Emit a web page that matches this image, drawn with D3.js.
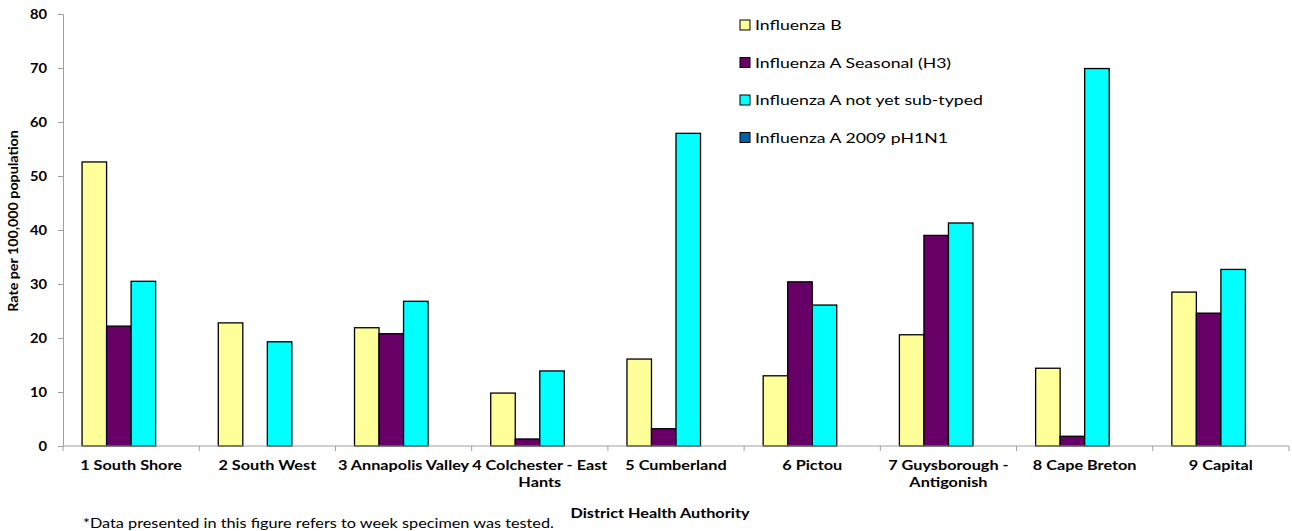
<!DOCTYPE html>
<html>
<head>
<meta charset="utf-8">
<script src="https://cdn.jsdelivr.net/npm/d3@7"></script>
<style>
  html, body { margin: 0; padding: 0; background: #fff; }
  svg { display: block; font-family: Lato, "Open Sans", sans-serif; }
</style>
</head>
<body>
<svg id="chart" width="1292" height="531"></svg>
<script>
// District health authorities (line breaks mark where the label wraps)
const categories = [
  "1 South Shore",
  "2 South West",
  "3 Annapolis Valley",
  "4 Colchester - East\nHants",
  "5 Cumberland",
  "6 Pictou",
  "7 Guysborough -\nAntigonish",
  "8 Cape Breton",
  "9 Capital"
];

const seriesNames = [
  "Influenza B",
  "Influenza A Seasonal (H3)",
  "Influenza A not yet sub-typed",
  "Influenza A 2009 pH1N1"
];

// Rate per 100,000 population, one array per series
const influenzaB      = [52.6, 22.8, 21.9, 9.8, 16.1, 13.0, 20.6, 14.4, 28.5];
const influenzaAH3    = [22.2, 0, 20.8, 1.3, 3.2, 30.4, 39.0, 1.8, 24.6];
const influenzaANotST = [30.5, 19.3, 26.8, 13.9, 57.9, 26.1, 41.3, 69.9, 32.7];
const influenzaAH1N1  = [0, 0, 0, 0, 0, 0, 0, 0, 0];

const yTicks = [0, 10, 20, 30, 40, 50, 60, 70, 80];

const seriesValues = [influenzaB, influenzaAH3, influenzaANotST, influenzaAH1N1];
const colors = ["#FFFF99", "#660066", "#00FFFF", "#0060A8"];

const svg = d3.select("#chart");
const plot = { left: 63, right: 1289, top: 14, bottom: 446 };

// Widen text glyphs horizontally by factor k
function widen(sel, k) {
  sel.each(function () {
    const w = this.getComputedTextLength();
    d3.select(this).attr("textLength", w * k).attr("lengthAdjust", "spacingAndGlyphs");
  });
}

const x0 = d3.scaleBand().domain(categories).range([plot.left, plot.right]).padding(0);
const inset = x0.bandwidth() * 0.14;
const x1 = d3.scaleBand().domain(d3.range(seriesNames.length))
  .range([inset, x0.bandwidth() - inset]).padding(0);
const y = d3.scaleLinear().domain([0, 80]).range([plot.bottom, plot.top]);

// Y axis
const yAxis = svg.append("g").attr("transform", `translate(${plot.left},0)`)
  .call(d3.axisLeft(y).tickValues(yTicks).tickSize(5).tickPadding(11).tickFormat(d3.format("d")));
yAxis.select(".domain").attr("stroke", "#a0a0a0");
yAxis.selectAll(".tick line").attr("stroke", "#a0a0a0");
yAxis.selectAll(".tick text")
  .attr("font-size", 13).attr("font-weight", "bold").attr("fill", "#000")
  .attr("font-family", "Lato, sans-serif")
  .call(widen, 1.13);

// Bars
const groups = svg.append("g").selectAll("g")
  .data(categories).join("g")
  .attr("transform", d => `translate(${x0(d)},0)`);

groups.selectAll("rect")
  .data((d, i) => seriesValues.map((vals, s) => ({ s, v: vals[i] })).filter(d => d.v > 0))
  .join("rect")
  .attr("x", d => x1(d.s))
  .attr("y", d => y(d.v))
  .attr("width", x1.bandwidth())
  .attr("height", d => y(0) - y(d.v))
  .attr("fill", d => colors[d.s])
  .attr("stroke", "#000")
  .attr("stroke-width", 1.3);

// X axis with ticks at category boundaries
const xAxisG = svg.append("g");
xAxisG.append("line")
  .attr("x1", plot.left).attr("x2", plot.right)
  .attr("y1", y(0)).attr("y2", y(0))
  .attr("stroke", "#a0a0a0");
const boundaries = categories.map(c => x0(c)).concat([plot.right]);
xAxisG.selectAll("line.tk").data(boundaries).join("line")
  .attr("class", "tk")
  .attr("x1", d => d).attr("x2", d => d)
  .attr("y1", y(0)).attr("y2", y(0) + 5)
  .attr("stroke", "#a0a0a0");

const xl = svg.append("g").selectAll("text")
  .data(categories).join("text")
  .attr("text-anchor", "middle")
  .attr("font-size", 13).attr("font-weight", "bold")
  .attr("x", d => x0(d) + x0.bandwidth() / 2)
  .attr("y", 470);
xl.selectAll("tspan")
  .data(d => d.split("\n")).join("tspan")
  .attr("x", function () { return d3.select(this.parentNode).attr("x"); })
  .attr("dy", (d, i) => i === 0 ? 0 : 17)
  .text(d => d)
  .call(widen, 1.25);

// Axis titles
svg.append("text")
  .attr("transform", "translate(18,221) rotate(-90)")
  .attr("text-anchor", "middle")
  .attr("font-size", 12.5).attr("font-weight", "bold")
  .text("Rate per 100,000 population")
  .call(widen, 1.14);

svg.append("text")
  .attr("x", 660).attr("y", 518)
  .attr("text-anchor", "middle")
  .attr("font-size", 13).attr("font-weight", "bold")
  .text("District Health Authority")
  .call(widen, 1.25);

svg.append("text")
  .attr("x", 83).attr("y", 528)
  .attr("font-size", 13)
  .text("*Data presented in this figure refers to week specimen was tested.")
  .call(widen, 1.25);

// Legend
const legend = svg.append("g").selectAll("g")
  .data(seriesNames).join("g")
  .attr("transform", (d, i) => `translate(740,${25 + i * 37.5})`);
legend.append("rect")
  .attr("x", 0).attr("y", -5).attr("width", 10).attr("height", 10)
  .attr("fill", (d, i) => colors[i]).attr("stroke", "#000").attr("stroke-width", 1);
legend.append("text")
  .attr("x", 15).attr("y", 5)
  .attr("font-size", 14)
  .text(d => d)
  .call(widen, 1.26);
</script>
</body>
</html>
